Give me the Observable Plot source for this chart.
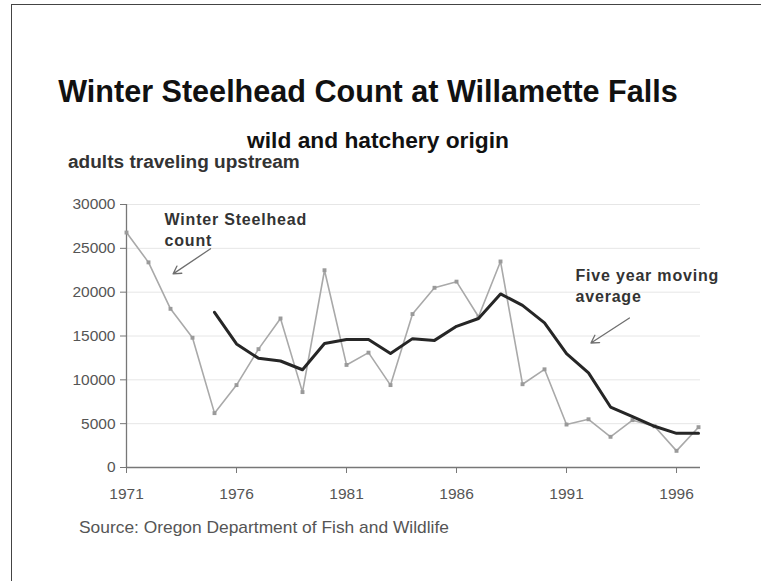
<!DOCTYPE html>
<html>
<head>
<meta charset="utf-8">
<script src="https://cdn.jsdelivr.net/npm/d3@7"></script>
<script src="https://cdn.jsdelivr.net/npm/@observablehq/plot@0.6"></script>
<style>
  html, body { margin: 0; padding: 0; background: #fff; }
  #wrap { position: relative; width: 761px; height: 581px; overflow: hidden; background: #fff; font-family: "Liberation Sans", Arial, sans-serif; }
  #wrap svg { position: absolute; left: 0; top: 0; }
  .txt { position: absolute; white-space: nowrap; line-height: 1; margin: 0; }
  .border-top { position: absolute; left: 11px; top: 4px; width: 760px; height: 0; border-top: 1.5px solid #444; }
  .border-left { position: absolute; left: 11px; top: 4px; width: 0; height: 590px; border-left: 1.5px solid #444; }
</style>
</head>
<body>
<div id="wrap">
  <div class="border-top"></div>
  <div class="border-left"></div>
</div>
<script>
// ---- data ----
const years = [1971, 1972, 1973, 1974, 1975, 1976, 1977, 1978, 1979, 1980, 1981, 1982, 1983, 1984,
               1985, 1986, 1987, 1988, 1989, 1990, 1991, 1992, 1993, 1994, 1995, 1996, 1997];
const counts = [26800, 23400, 18100, 14800, 6200, 9400, 13500, 17000, 8600, 22500, 11700, 13100, 9400, 17500,
                20500, 21200, 17200, 23500, 9500, 11200, 4900, 5500, 3500, 5400, 4700, 1900, 4600];
const avgYears = [1975, 1976, 1977, 1978, 1979, 1980, 1981, 1982, 1983, 1984, 1985, 1986,
                  1987, 1988, 1989, 1990, 1991, 1992, 1993, 1994, 1995, 1996, 1997];
const avgValues = [17700, 14100, 12450, 12150, 11150, 14150, 14600, 14600, 13000, 14700, 14500, 16100,
                   17000, 19800, 18500, 16500, 13000, 10800, 6900, 5800, 4700, 3900, 3900];
const xTicks = [1971, 1976, 1981, 1986, 1991, 1996];
const yTicks = [0, 5000, 10000, 15000, 20000, 25000, 30000];

const titleText = "Winter Steelhead Count at Willamette Falls";
const subtitleText = "wild and hatchery origin";
const yLabelText = "adults traveling upstream";
const sourceText = "Source: Oregon Department of Fish and Wildlife";

// annotations (in data units: year, count)
const noteLabels = ["Winter Steelhead\ncount", "Five year moving\naverage"];
const noteYears = [1972.73, 1991.41];
const noteCounts = [29430, 23040];
const arrowFromYears = [1974.82, 1993.86];
const arrowFromCounts = [24950, 17050];
const arrowToYears = [1973.12, 1992.11];
const arrowToCounts = [22090, 14200];

// ---- tables ----
const countData = years.map((y, i) => ({year: y, value: counts[i]}));
const avgData = avgYears.map((y, i) => ({year: y, value: avgValues[i]}));
const notes = noteLabels.map((t, i) => ({text: t, year: noteYears[i], value: noteCounts[i]}));
const arrows = arrowFromYears.map((y, i) => ({x1: y, y1: arrowFromCounts[i], x2: arrowToYears[i], y2: arrowToCounts[i]}));

const W = 761, H = 581;
const chart = Plot.plot({
  width: W,
  height: H,
  marginLeft: 126,
  marginRight: 61,
  marginTop: 204,
  marginBottom: 114,
  style: {fontFamily: '"Liberation Sans", Arial, sans-serif', fontSize: "15px", background: "transparent", overflow: "visible"},
  x: {domain: [1971, 1997.09], label: null},
  y: {domain: [0, 30000], label: null},
  marks: [
    Plot.gridY(yTicks, {stroke: "#e6e6e6", strokeOpacity: 1}),
    Plot.axisY({ticks: yTicks, tickSize: 6, tickPadding: 5, tickFormat: d => String(d), stroke: "#777", fill: "#555", label: null, fontSize: 15.5}),
    Plot.axisX({ticks: xTicks, tickSize: 6, tickPadding: 14, tickFormat: d => String(d), stroke: "#777", fill: "#555", label: null, fontSize: 15.5}),
    Plot.ruleY([0], {stroke: "#777", strokeWidth: 1.6}),
    Plot.ruleX([1971], {y1: 0, y2: 30000, stroke: "#777", strokeWidth: 1.3}),
    Plot.line(countData, {x: "year", y: "value", stroke: "#a9a9a9", strokeWidth: 1.6}),
    Plot.dot(countData, {x: "year", y: "value", symbol: "square", r: 2.2, fill: "#9a9a9a", stroke: "none"}),
    Plot.line(avgData, {x: "year", y: "value", stroke: "#262626", strokeWidth: 3}),
    Plot.arrow(arrows, {x1: "x1", y1: "y1", x2: "x2", y2: "y2", stroke: "#6f6f6f", strokeWidth: 1.3, headLength: 10, bend: 0}),
    Plot.text(notes, {x: "year", y: "value", text: "text", textAnchor: "start", lineAnchor: "top", lineHeight: 1.34,
                      fontSize: 16, fontWeight: "bold", fill: "#333"})
  ]
});
document.getElementById("wrap").appendChild(chart);
// slightly wider annotation lettering, as in the picture
d3.select(chart).selectAll('g[aria-label="text"] text').style("letter-spacing", "0.8px");

// ---- HTML text (title, subtitle, axis label, source), fitted to widths from the picture ----
const canvas = document.createElement("canvas");
const ctx = canvas.getContext("2d");
function addText(text, {weight, size, color, baseline, left, center, width}) {
  const fam = '"Liberation Sans", Arial, sans-serif';
  let fs = size;
  if (width) {
    ctx.font = `${weight} 100px ${fam}`;
    const w100 = ctx.measureText(text).width;
    fs = 100 * width / w100;
  }
  const el = document.createElement("div");
  el.className = "txt";
  el.textContent = text;
  el.style.fontFamily = fam;
  el.style.fontWeight = weight;
  el.style.fontSize = fs + "px";
  el.style.color = color;
  el.style.top = (baseline - 0.8465 * fs) + "px";
  if (center != null) { el.style.left = center + "px"; el.style.transform = "translateX(-50%)"; }
  else el.style.left = left + "px";
  document.getElementById("wrap").appendChild(el);
}
addText(titleText, {weight: "bold", size: 26, color: "#111", baseline: 102, center: 368, width: 620});
addText(subtitleText, {weight: "bold", size: 19, color: "#111", baseline: 148, center: 378, width: 262});
addText(yLabelText, {weight: "bold", size: 16, color: "#333", baseline: 168.5, left: 68, width: 232});
addText(sourceText, {weight: "normal", size: 14.5, color: "#555", baseline: 533.5, left: 79, width: 370});
</script>
</body>
</html>
